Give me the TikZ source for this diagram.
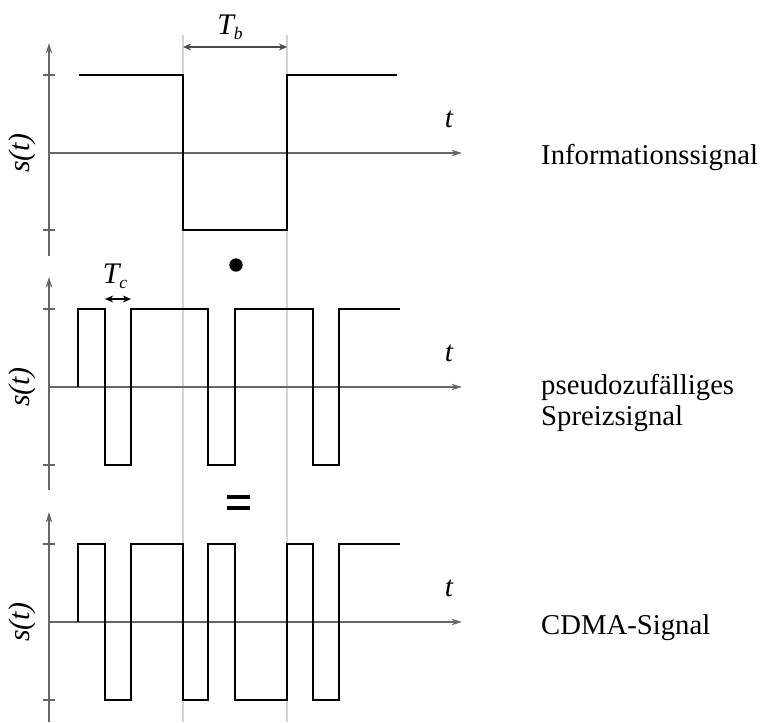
\documentclass[tikz,border=0pt]{standalone}
\usepackage{fontspec}
\setmainfont{Liberation Serif}
\usetikzlibrary{arrows.meta}

\newcommand{\subidx}[2]{\textit{#1}\raisebox{-0.35ex}{\fontsize{15}{15}\selectfont\textit{#2}}}

\begin{document}
\begin{tikzpicture}[x=0.03cm, y=-0.03cm,
    achse/.style={draw=black!60, line width=0.9pt},
    pfeil/.style={-{Stealth[length=9pt,width=5.5pt]}},
    signal/.style={line width=2.5pt, line join=miter},
    raster/.style={draw=black!17, line width=2.2pt},
    mass/.style={{Stealth[length=7pt,width=6pt]}-{Stealth[length=7pt,width=6pt]}, line width=0.9pt},
    beschr/.style={font=\fontsize{24.5}{26.4}\selectfont, anchor=west, inner sep=0pt, align=left},
    marke/.style={font=\fontsize{25.5}{29}\selectfont\itshape, inner sep=0pt}]
\useasboundingbox (0,0) rectangle (762,722);

% Bitgrenzen
\draw[raster] (183,35) -- (183,722);
\draw[raster] (287,35) -- (287,722);

% drei Achsenkreuze
\foreach \y/\hi/\lo/\top/\bot [count=\i] in {153/75/230/43/256, 387/309/465/277/490, 622/544/700/512/722}{
    \draw[achse,pfeil] (49,\bot) -- (49,\top);
    \draw[achse,pfeil] (49,\y) -- (462,\y);
    \draw[achse] (43,\hi) -- (55,\hi);
    \draw[achse] (43,\lo) -- (55,\lo);
    \node[marke, rotate=90] (s\i) at (22,\y) {s(t)};
    \node[marke, font=\fontsize{25}{29}\selectfont\itshape] (t\i) at (449,\y-34) {t};
}

% Signale
\draw[signal] (79,75) -| (183,230) -| (287,75) -- (397,75);
\draw[signal] (78,387) |- (105,309) |- (131,465) |- (208,309) |- (235,465)
    |- (313,309) |- (339,465) |- (400,309);
\draw[signal] (78,622) |- (105,544) |- (131,700) |- (183,544) |- (208,700)
    |- (235,544) |- (287,700) |- (313,544) |- (339,700) |- (400,544);

% Bitdauer und Chipdauer
\coordinate (tb1) at (183,47);
\coordinate (tb2) at (287,47);
\draw[mass, draw=black!70] (tb1) -- (tb2);
\node[marke] (tb) at (230,27) {\subidx{T}{b}};
\coordinate (tc1) at (105,299);
\coordinate (tc2) at (131,299);
\draw[mass] (tc1) -- (tc2);
\node[marke] (tc) at (115,276) {\subidx{T}{c}};

% Operatoren
\fill (236,265) circle (0.2cm);
\draw[line width=3.4pt] (227,497) -- (250,497);
\draw[line width=3.4pt] (227,508) -- (250,508);

% Beschriftung
\node[beschr] (info) at (541,157) {Informationssignal};
\node[beschr] (spreiz) at (541,403) {pseudozufälliges\\Spreizsignal};
\node[beschr] (cdma) at (541,628) {CDMA-Signal};
\end{tikzpicture}
\end{document}
